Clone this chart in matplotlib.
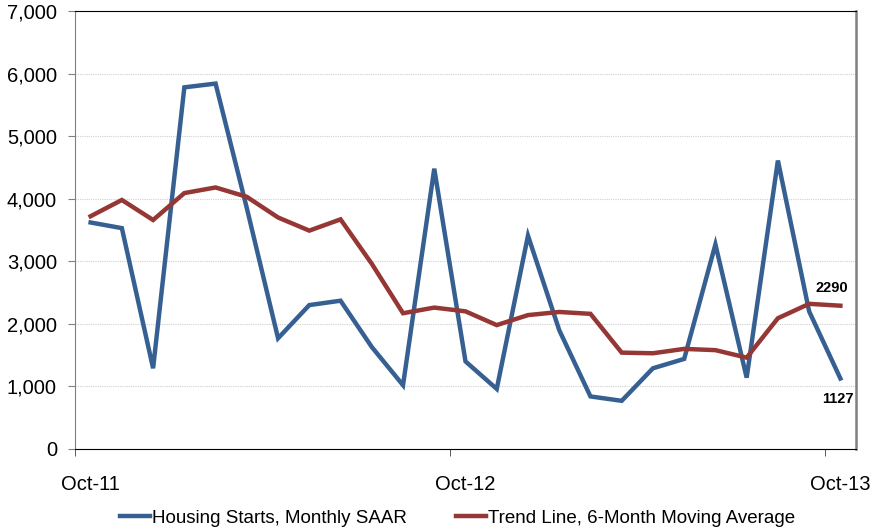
import matplotlib
matplotlib.use("Agg")
import matplotlib.pyplot as plt
from matplotlib.ticker import FuncFormatter

plt.rcParams["font.family"] = ["Liberation Sans", "DejaVu Sans"]

# monthly data, Oct-11 .. Oct-13
months = list(range(25))
starts = [3620, 3530, 1290, 5780, 5840, 3850, 1770, 2300, 2370, 1630, 1020, 4480, 1400,
          960, 3410, 1900, 840, 770, 1290, 1440, 3270, 1140, 4610, 2200, 1127]
trend = [3720, 3980, 3660, 4090, 4180, 4030, 3700, 3490, 3670, 2960, 2170, 2260, 2200,
         1980, 2140, 2190, 2160, 1540, 1530, 1600, 1580, 1460, 2090, 2320, 2290]
tick_pos = [0, 12, 24]
tick_labels = ["Oct-11", "Oct-12", "Oct-13"]

blue = "#376092"
red = "#953735"

fig = plt.figure(figsize=(8.73, 5.29), dpi=100)
ax = fig.add_axes([75 / 873, 1 - 449 / 529, (856 - 75) / 873, (449 - 11) / 529])

l1, = ax.plot(months, starts, color=blue, lw=3.2, solid_joinstyle="miter",
              label="Housing Starts, Monthly SAAR")
l2, = ax.plot(months, trend, color=red, lw=3.2, solid_joinstyle="miter",
              label="Trend Line, 6-Month Moving Average")

ax.set_xlim(-0.5, 24.5)
ax.set_ylim(0, 7000)
ax.set_yticks(range(0, 7001, 1000))
ax.yaxis.set_major_formatter(FuncFormatter(lambda v, p: "{:,.0f}".format(v)))
ax.grid(axis="y", color="#d0d0d0", linestyle=(0, (1, 1)), lw=0.8)
ax.set_axisbelow(True)

ax.set_xticks(tick_pos)
ax.set_xticklabels(tick_labels)
ax.set_xticks([p - 0.5 for p in tick_pos], minor=True)
ax.tick_params(axis="x", which="major", length=0, pad=19, labelsize=14.5)
ax.tick_params(axis="x", which="minor", length=5, color="#404040", direction="out")
ax.tick_params(axis="y", length=5, color="#808080", pad=8, labelsize=14.5)

ax.spines["left"].set_color("#808080")
ax.spines["right"].set_color("#808080")
ax.spines["right"].set_linewidth(1.8)
ax.spines["top"].set_color("black")
ax.spines["bottom"].set_color("black")

ax.annotate(str(trend[-1]), (months[-1], trend[-1]), xytext=(-6, 10),
            textcoords="offset points", fontsize=10.5, fontweight="bold", ha="center")
ax.annotate(str(starts[-1]), (months[-1], starts[-1]), xytext=(-2, -18),
            textcoords="offset points", fontsize=10.5, fontweight="bold", ha="center")

fig.legend(handles=[l1, l2], loc="center", bbox_to_anchor=(0.524, 0.02), ncol=2,
           frameon=False, fontsize=13.5, handlelength=1.6, handletextpad=0.1,
           columnspacing=2.6)

fig.savefig("out.png", dpi=100)
